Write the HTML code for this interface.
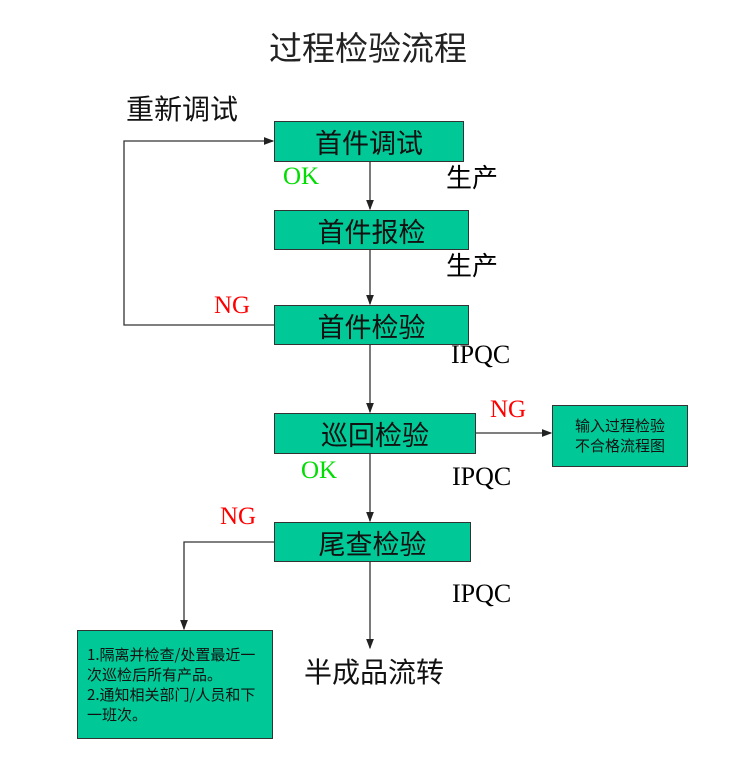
<!DOCTYPE html>
<html><head><meta charset="utf-8"><style>
body{margin:0;width:750px;height:780px;background:#fff;position:relative;overflow:hidden;font-family:"Liberation Serif","Noto Sans CJK SC",sans-serif}
.t{position:absolute;white-space:nowrap}
.b{position:absolute;background:#00c896;border:1px solid #333;box-sizing:border-box;display:flex;align-items:center;justify-content:center;font-size:27px;color:#111;font-family:"Noto Sans CJK SC",sans-serif}
.s{font-family:"Noto Sans CJK SC",sans-serif}
.r{color:#f00;font-size:25px}.g{color:#0d0;font-size:25px}
.k{font-size:26px;color:#000}
</style></head><body>
<svg width="750" height="780" style="position:absolute;left:0;top:0">
<defs><marker id="a" markerWidth="8" markerHeight="8" refX="7" refY="4" orient="auto"><path d="M0,1 L8,4 L0,7z" fill="#222"/></marker></defs>
<g stroke="#333" stroke-width="1.3" fill="none">
<line x1="370" y1="162" x2="370" y2="209" marker-end="url(#a)"/>
<line x1="370" y1="250" x2="370" y2="304" marker-end="url(#a)"/>
<line x1="370" y1="345" x2="370" y2="412" marker-end="url(#a)"/>
<line x1="370" y1="454" x2="370" y2="521" marker-end="url(#a)"/>
<line x1="370" y1="562" x2="370" y2="648" marker-end="url(#a)"/>
<polyline points="274,325 124,325 124,141 273,141" marker-end="url(#a)"/>
<line x1="476" y1="433" x2="551" y2="433" marker-end="url(#a)"/>
<polyline points="274,542 184,542 184,629" marker-end="url(#a)"/>
</g></svg>
<div class="t s" style="left:269px;top:22px;font-size:33px;color:#222">过程检验流程</div>
<div class="t s" style="left:126px;top:88px;font-size:28px;color:#111">重新调试</div>
<div class="b" style="left:274px;top:121px;width:190px;height:41px">首件调试</div>
<div class="b" style="left:274px;top:210px;width:195px;height:40px">首件报检</div>
<div class="b" style="left:274px;top:305px;width:195px;height:40px">首件检验</div>
<div class="b" style="left:274px;top:413px;width:202px;height:41px">巡回检验</div>
<div class="b" style="left:274px;top:522px;width:197px;height:40px">尾查检验</div>
<div class="b" style="left:552px;top:405px;width:136px;height:62px;font-size:15px;line-height:20px;text-align:center">输入过程检验<br>不合格流程图</div>
<div class="b" style="left:77px;top:630px;width:196px;height:109px;font-size:15px;line-height:20px;justify-content:flex-start;align-items:flex-start;padding:14px 0 0 9px">1.隔离并检查/处置最近一<br>次巡检后所有产品。<br>2.通知相关部门/人员和下<br>一班次。</div>
<div class="t g" style="left:283px;top:163px">OK</div>
<div class="t g" style="left:301px;top:457px">OK</div>
<div class="t r" style="left:214px;top:292px">NG</div>
<div class="t r" style="left:490px;top:396px">NG</div>
<div class="t r" style="left:220px;top:503px">NG</div>
<div class="t s k" style="left:446px;top:158px">生产</div>
<div class="t s k" style="left:446px;top:246px">生产</div>
<div class="t k" style="left:451px;top:340px">IPQC</div>
<div class="t k" style="left:452px;top:462px">IPQC</div>
<div class="t k" style="left:452px;top:579px">IPQC</div>
<div class="t s" style="left:304px;top:651px;font-size:28px;color:#111">半成品流转</div>
</body></html>
